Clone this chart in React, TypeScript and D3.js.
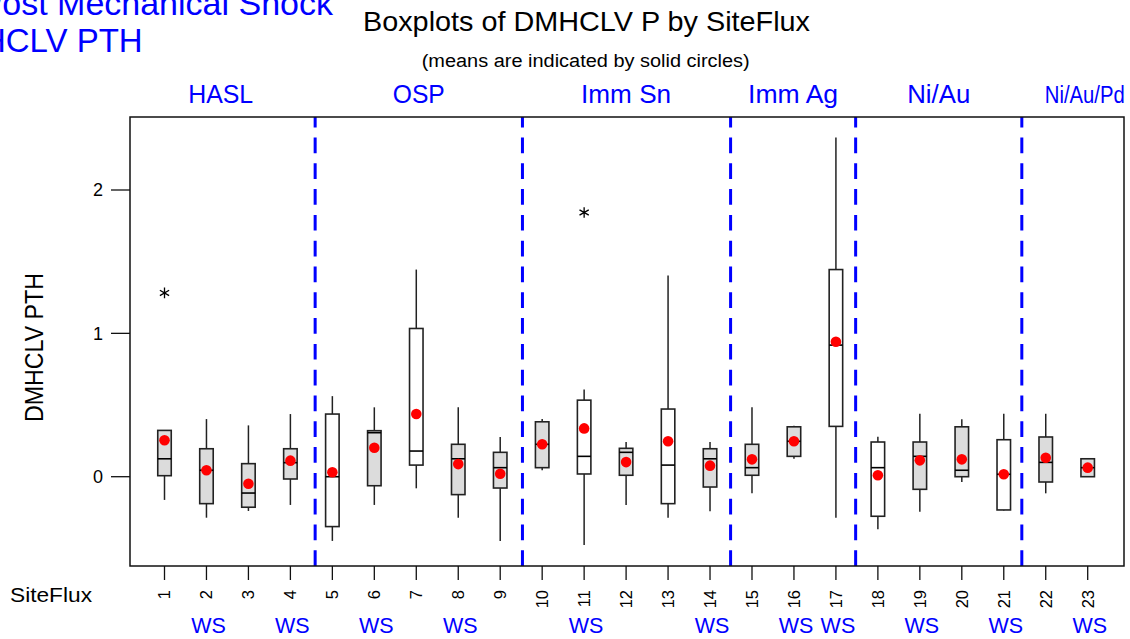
import React from "react";
import * as d3 from "d3";

// ---------- data ----------
const siteLabels = ["1","2","3","4","5","6","7","8","9","10","11","12","13","14","15","16","17","18","19","20","21","22","23"];
const sites = [1,2,3,4,5,6,7,8,9,10,11,12,13,14,15,16,17,18,19,20,21,22,23];
const whiskerLow = [-0.162,-0.286,-0.239,-0.197,-0.448,-0.197,-0.081,-0.286,-0.448,0.045,-0.476,-0.197,-0.286,-0.241,-0.116,0.125,-0.286,-0.367,-0.244,-0.037,-0.235,-0.116,0.0];
const q1 = [0.007,-0.188,-0.213,-0.016,-0.348,-0.063,0.081,-0.125,-0.079,0.063,0.019,0.010,-0.188,-0.072,0.010,0.142,0.351,-0.276,-0.088,0.0,-0.232,-0.037,0.0];
const medians = [0.125,0.045,-0.114,0.098,0.0,0.307,0.179,0.125,0.063,0.226,0.142,0.170,0.081,0.125,0.063,0.247,0.918,0.063,0.142,0.045,0.017,0.100,0.063];
const q3 = [0.323,0.195,0.091,0.195,0.437,0.321,1.034,0.226,0.170,0.383,0.534,0.198,0.472,0.195,0.226,0.348,1.445,0.242,0.242,0.348,0.258,0.277,0.125];
const whiskerHigh = [0.323,0.402,0.358,0.437,0.562,0.484,1.445,0.484,0.277,0.402,0.609,0.242,1.403,0.242,0.484,0.355,2.367,0.279,0.439,0.400,0.439,0.439,0.125];
const means = [0.254,0.045,-0.049,0.112,0.031,0.202,0.437,0.088,0.021,0.226,0.337,0.102,0.247,0.077,0.121,0.247,0.941,0.010,0.114,0.121,0.017,0.132,0.063];
const shaded = [true,true,true,true,false,true,false,true,true,true,false,true,false,true,true,true,false,false,true,true,false,true,true];
const outlierSites = [1, 11];
const outlierValues = [1.282, 1.843];
const groupNames = ["HASL","OSP","Imm Sn","Imm Ag","Ni/Au","Ni/Au/Pd"];
const groupPositions = [2.34, 7.06, 12.0, 15.98, 19.45, 22.93];
const groupBoundaries = [4.59, 9.53, 14.49, 17.47, 21.43];
const wsSites = [2,4,6,8,11,14,16,17,19,21,23];
const yTicks = [0, 1, 2];

// ---------- layout ----------
const W = 1130, H = 639;
const plotLeft = 130, plotRight = 1124, plotTop = 117, plotBottom = 566;
const groupLabelWidths = [65, 52, 90, 90, 63, 80];
const groupLabelSizes = [25.5, 25.5, 25.5, 25.5, 25.5, 23];
const FONT = "'Liberation Sans', Arial, Helvetica, sans-serif";

export default function App() {
  const x = d3.scaleLinear().domain([1, 23]).range([164.5, 1087.7]);
  const y = d3.scaleLinear().domain([0, 2]).range([476.7, 190]);
  const boxW = 13.5;
  const star = d3.symbol().type(d3.symbolAsterisk).size(80)();

  return (
    <svg width={W} height={H} viewBox={`0 0 ${W} ${H}`}
      style={{ position: "absolute", left: 0, top: 0, background: "#fff" }}
      fontFamily={FONT}>
      <rect x={0} y={0} width={W} height={H} fill="#fff" />

      {/* top-left clipped blue title */}
      <text x={333} y={15} fontSize={34} fill="#0000FF" textAnchor="end">Post Mechanical Shock</text>
      <text x={142.7} y={51.7} fontSize={33} fill="#0000FF" textAnchor="end">DMHCLV PTH</text>

      {/* main title */}
      <text x={363} y={30.7} fontSize={28} fill="#000" textLength={447} lengthAdjust="spacingAndGlyphs">Boxplots of DMHCLV P by SiteFlux</text>
      <text x={421.7} y={66.5} fontSize={18} fill="#000" textLength={328} lengthAdjust="spacingAndGlyphs">(means are indicated by solid circles)</text>

      {/* group labels */}
      {groupNames.map((g, i) => (
        <text key={g} x={x(groupPositions[i])} y={102.7} fontSize={groupLabelSizes[i]} fill="#0000FF" textAnchor="middle"
          textLength={groupLabelWidths[i]} lengthAdjust="spacingAndGlyphs">{g}</text>
      ))}

      {/* dashed group boundaries */}
      {groupBoundaries.map((b, i) => (
        <line key={i} x1={x(b)} x2={x(b)} y1={plotBottom} y2={plotTop}
          stroke="#0000FF" strokeWidth={3} strokeDasharray="15.7 10.1" />
      ))}

      {/* boxes */}
      {sites.map((s, i) => {
        const cx = x(s);
        return (
          <g key={s}>
            {whiskerHigh[i] > q3[i] && (
              <line x1={cx} x2={cx} y1={y(q3[i])} y2={y(whiskerHigh[i])} stroke="#222" strokeWidth={1.5} />
            )}
            {whiskerLow[i] < q1[i] && (
              <line x1={cx} x2={cx} y1={y(q1[i])} y2={y(whiskerLow[i])} stroke="#222" strokeWidth={1.5} />
            )}
            <rect x={cx - boxW / 2} y={y(q3[i])} width={boxW} height={Math.max(0.5, y(q1[i]) - y(q3[i]))}
              fill={shaded[i] ? "#DCDCDC" : "#FFFFFF"} stroke="#222" strokeWidth={1.6} />
            <line x1={cx - boxW / 2} x2={cx + boxW / 2} y1={y(medians[i])} y2={y(medians[i])} stroke="#000" strokeWidth={1.6} />
            <circle cx={cx} cy={y(means[i])} r={5.3} fill="#FF0000" />
          </g>
        );
      })}

      {/* outliers */}
      {outlierSites.map((s, i) => (
        <path key={s} d={star} transform={`translate(${x(s)},${y(outlierValues[i])})`} stroke="#000" strokeWidth={1.3} fill="none" />
      ))}

      {/* frame */}
      <rect x={plotLeft} y={plotTop} width={plotRight - plotLeft} height={plotBottom - plotTop}
        fill="none" stroke="#111" strokeWidth={1.5} />

      {/* y axis */}
      {yTicks.map((t) => (
        <g key={t}>
          <line x1={111} x2={plotLeft} y1={y(t)} y2={y(t)} stroke="#111" strokeWidth={1.3} />
          <text x={103} y={y(t)} dy="0.36em" fontSize={18} textAnchor="end" fill="#000">{t}</text>
        </g>
      ))}
      <text transform={`translate(43,347.5) rotate(-90)`} fontSize={25} textAnchor="middle" fill="#000"
        textLength={149} lengthAdjust="spacingAndGlyphs">DMHCLV PTH</text>

      {/* x axis */}
      {sites.map((s, i) => (
        <g key={s}>
          <line x1={x(s)} x2={x(s)} y1={plotBottom} y2={580} stroke="#111" strokeWidth={1.3} />
          <text transform={`translate(${x(s)},590) rotate(-90)`} dy="0.36em" fontSize={16.5} textAnchor="end" fill="#000">{siteLabels[i]}</text>
        </g>
      ))}
      <text x={10} y={601.7} fontSize={21} fill="#000" textLength={82} lengthAdjust="spacingAndGlyphs">SiteFlux</text>
      {wsSites.map((s, i) => (
        <text key={i} x={x(s) + 2} y={633.3} fontSize={21.5} fill="#0000FF" textAnchor="middle">WS</text>
      ))}
    </svg>
  );
}
